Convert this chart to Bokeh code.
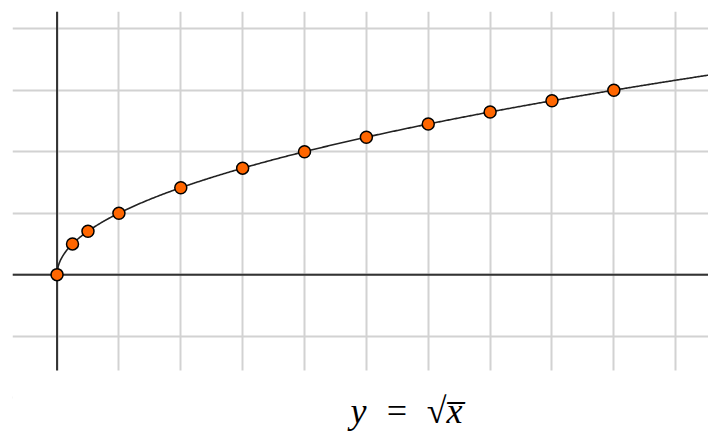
import numpy as np
from bokeh.plotting import figure
from bokeh.models import Range1d, FixedTicker, Span, BoxAnnotation
from bokeh.core.properties import value
from bokeh.embed import file_html
from bokeh.resources import INLINE

# sample points on y = sqrt(x)
point_x = [0, 0.25, 0.5, 1, 2, 3, 4, 5, 6, 7, 8, 9]
point_y = [0, 0.5, 0.707, 1, 1.414, 1.732, 2, 2.236, 2.449, 2.646, 2.828, 3]

grid_x = [-1, 0, 1, 2, 3, 4, 5, 6, 7, 8, 9, 10, 11]
grid_y = [-2, -1, 0, 1, 2, 3, 4, 5]

caption = "y\u2002=\u2002\u221ax\u0305"

Y_BOTTOM = -2.6   # lowest visible value (caption strip)
GRID_FLOOR = -1.56  # grid area ends here; caption sits below it

p = figure(width=708, height=434, output_backend="svg", toolbar_location=None,
           x_range=Range1d(-0.72, 10.53), y_range=Range1d(Y_BOTTOM, 4.28),
           min_border_left=12, min_border_right=0, min_border_top=11,
           min_border_bottom=0, outline_line_color=None)
p.background_fill_color = "white"
p.border_fill_color = "white"

p.xaxis.visible = False
p.yaxis.visible = False
p.xgrid.ticker = FixedTicker(ticks=grid_x)
p.ygrid.ticker = FixedTicker(ticks=grid_y)
for g in (p.xgrid, p.ygrid):
    g.grid_line_color = "#d2d2d2"
    g.grid_line_width = 2

# coordinate axes through the origin
p.add_layout(Span(location=0, dimension="height", line_color="#333333",
                  line_width=2, level="underlay"))
p.add_layout(Span(location=0, dimension="width", line_color="#333333",
                  line_width=2, level="underlay"))

# white strip under the grid for the caption
p.add_layout(BoxAnnotation(top=GRID_FLOOR, bottom=Y_BOTTOM, fill_color="white",
                           fill_alpha=1.0, line_color=None, level="underlay"))

# the curve itself
cx = np.linspace(0, 10.6, 600)
p.line(cx, np.sqrt(cx), line_color="#222222", line_width=1.6)

p.scatter(point_x, point_y, size=12, fill_color="#ff6600",
          line_color="black", line_width=1.5)

p.text(x=[5.65], y=[-2.22], text=[caption], text_align="center",
       text_baseline="alphabetic", text_font=value("Liberation Serif"),
       text_font_style="italic", text_font_size="36px", text_color="black")

open("out.html", "w").write(file_html(p, INLINE))
